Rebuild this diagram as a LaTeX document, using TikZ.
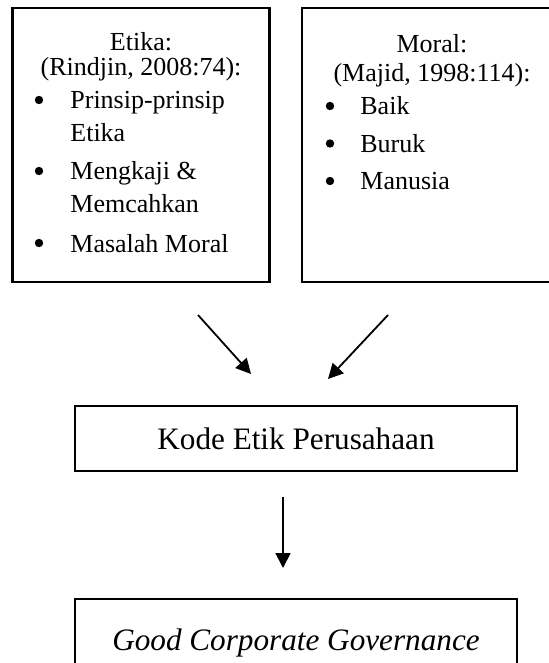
\documentclass[tikz,border=0pt]{standalone}
\usepackage{fontspec}
\setmainfont{Liberation Serif}
\usetikzlibrary{arrows.meta,positioning}

\begin{document}
\begin{tikzpicture}[
  x=0.5pt, y=-0.5pt,
  box/.style={draw, line width=1.2pt, inner sep=0pt},
  toptext/.style={anchor=base, inner sep=0pt, font=\fontsize{13}{15}\selectfont},
  itemtext/.style={toptext, anchor=base west},
  bulletdot/.style={circle, fill, inner sep=0pt, minimum size=4.2pt},
  bigtext/.style={box, font=\fontsize{15.6}{18}\selectfont, minimum width=221pt},
  arr/.style={-{Triangle[length=7.5pt,width=7.5pt]}, line width=0.9pt}
]
\useasboundingbox (0,0) rectangle (549,663);
% source boxes
\node[box, minimum width=128.5pt, minimum height=137pt] (etika) at (141,145) {};
\node[box, minimum width=130pt, minimum height=137pt] (moral) at (432,145) {};
\node[toptext] (etikatitle) at (141,51) {Etika:};
\node[toptext] (etikaref) at (141,76) {(Rindjin, 2008:74):};
\node[toptext] (moraltitle) at (432,53) {Moral:};
\node[toptext] (moralref) at (432,82) {(Majid, 1998:114):};
\foreach \i/\y in {1/109, 2/180, 3/252}
  \node[bulletdot] (eb\i) at (39,\y-9) {};
\node[itemtext] (e1) at (70,109) {Prinsip-prinsip};
\node[itemtext] (e1b) at (70,142) {Etika};
\node[itemtext] (e2) at (70,180) {Mengkaji \&};
\node[itemtext] (e2b) at (70,213) {Memcahkan};
\node[itemtext] (e3) at (70,252) {Masalah Moral};
\foreach \t [count=\i] in {Baik, Buruk, Manusia} {
  \pgfmathsetmacro{\yy}{115+37.5*(\i-1)}
  \node[bulletdot] (mb\i) at (330,\yy-9) {};
  \node[itemtext] (m\i) at (360,\yy) {\t};
}
% result boxes
\node[bigtext, minimum height=32.5pt] (kode) at (296,438.5) {Kode Etik Perusahaan};
\node[bigtext, minimum height=44pt, font=\fontsize{15.6}{18}\selectfont\itshape] (gcg) at (296,643) {Good Corporate Governance};
% arrows
\coordinate (a1) at (198,315);
\coordinate (a1e) at (251,374);
\coordinate (a2) at (388,315);
\coordinate (a2e) at (328,379);
\coordinate (a3) at (283,497);
\coordinate (a3e) at (283,568);
\draw[arr] (a1) -- (a1e);
\draw[arr] (a2) -- (a2e);
\draw[arr] (a3) -- (a3e);
\end{tikzpicture}
\end{document}
